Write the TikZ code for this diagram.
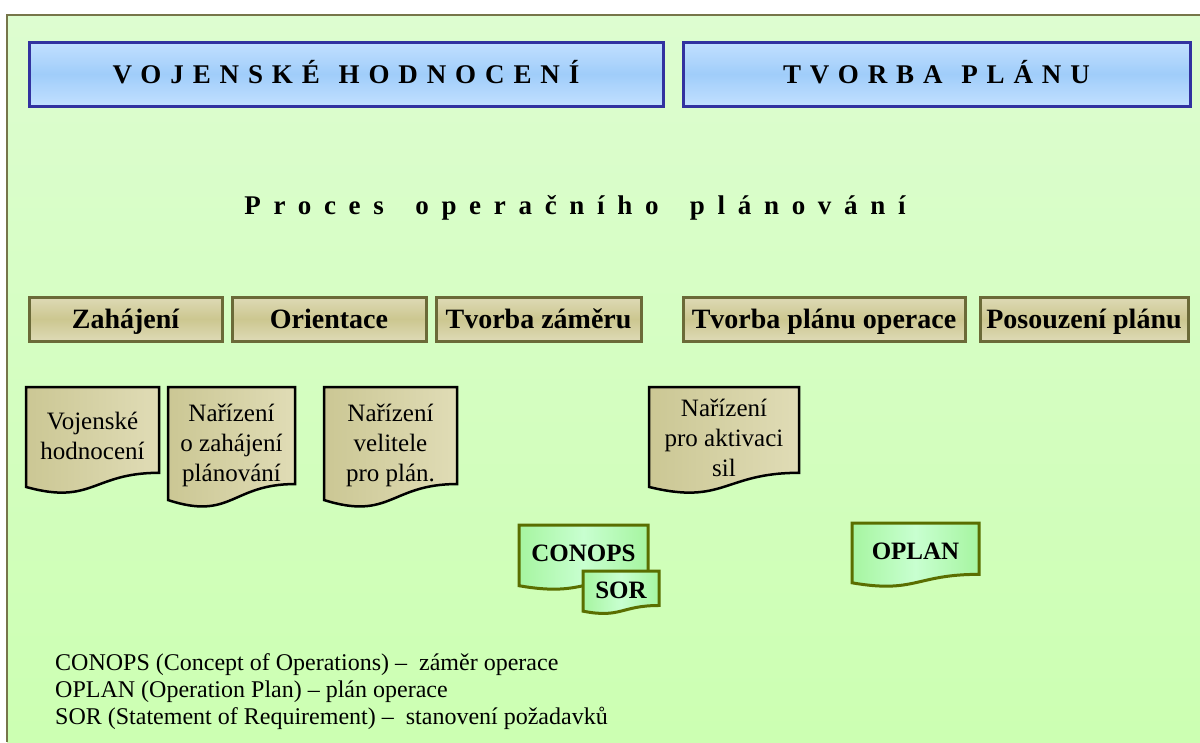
\documentclass[tikz,border=0pt]{standalone}
\usepackage{fontspec}
\setmainfont{Liberation Serif}
\definecolor{bgtop}{RGB}{221,253,208}
\definecolor{bgbot}{RGB}{204,255,178}
\definecolor{framec}{RGB}{118,118,74}
\definecolor{bluebd}{RGB}{50,50,160}
\definecolor{bluelt}{RGB}{194,224,255}
\definecolor{bluemid}{RGB}{160,205,250}
\definecolor{tanbd}{RGB}{107,106,56}
\definecolor{tanlt}{RGB}{222,218,182}
\definecolor{tanmid}{RGB}{204,199,144}
\definecolor{docl}{RGB}{203,199,148}
\definecolor{docr}{RGB}{224,220,182}
\definecolor{grbd}{RGB}{90,110,0}
\definecolor{grside}{RGB}{166,245,160}
\definecolor{grmid}{RGB}{200,255,208}
\newcommand\mydoc[5]{%
  \draw[#1] (#2,#3) -- (#4,#3) -- (#4,{#3+0.802*#5})
    .. controls ({(#2+#4)/2},{#3+0.802*#5}) and ({(#2+#4)/2},{#3+1.107*#5}) ..
    (#2,{#3+0.934*#5}) -- cycle;}
\begin{document}
\begin{tikzpicture}[x=1pt,y=-1pt,
  framestyle/.style={draw=framec,line width=2},
  bluebox/.style={draw=bluebd,line width=3,top color=bluelt,bottom color=bluelt,middle color=bluemid,
    inner sep=0,minimum height=64,text height=24,text depth=6,
    font=\fontsize{27}{32}\selectfont\bfseries\addfontfeature{LetterSpace=33}},
  tanbox/.style={draw=tanbd,line width=3,top color=tanlt,bottom color=tanlt,middle color=tanmid,
    inner sep=0,minimum height=44,text height=26,text depth=8,font=\fontsize{28}{32}\selectfont\bfseries},
  tandoc/.style={draw=black,line width=2.5,left color=docl,right color=docr},
  greendoc/.style={draw=grbd,line width=3,left color=grside,right color=grside,middle color=grmid},
  doctext/.style={align=center,inner sep=0,font=\fontsize{25}{30}\selectfont},
  grtext/.style={inner sep=0,text height=17,text depth=0,font=\fontsize{25}{28}\selectfont\bfseries},
  titletext/.style={inner sep=0,text height=18,text depth=0,
    font=\fontsize{27}{30}\selectfont\bfseries\addfontfeature{LetterSpace=47}},
  legendtext/.style={inner sep=0,anchor=base west,font=\fontsize{24}{27}\selectfont}]
\useasboundingbox (0,0) rectangle (1200,742);
\fill[white] (0,0) rectangle (1200,742);
\shade[top color=bgtop,bottom color=bgbot] (7,15) rectangle (1200,742);
\draw[framestyle] (7,742) -- (7,15) -- (1200,15);
% header boxes
\node[bluebox,minimum width=634] (vh) at (346,74) {VOJENSKÉ\hspace{3pt} HODNOCENÍ\hspace{-9pt}};
\node[bluebox,minimum width=507] (tp) at (936.5,74) {TVORBA\hspace{3pt} PLÁNU\hspace{-9pt}};
% title
\node[titletext] (title) at (575,205) {Proces\hspace{12pt} operačního\hspace{12pt} plánování\hspace{-12pt}};
% phase boxes
\node[tanbox,minimum width=193] (p1) at (125.5,319) {Zahájení};
\node[tanbox,minimum width=194] (p2) at (329,319) {Orientace};
\node[tanbox,minimum width=205] (p3) at (538.5,319) {Tvorba záměru};
\node[tanbox,minimum width=282] (p4) at (824,319) {Tvorba plánu operace};
\node[tanbox,minimum width=208] (p5) at (1084,319) {Posouzení plánu};
% documents
\mydoc{tandoc}{26}{387}{159}{107}
\node[doctext] (d1) at (92.5,436) {Vojenské\\hodnocení};
\mydoc{tandoc}{168}{387}{295}{121}
\node[doctext] (d2) at (231.5,445) {Nařízení\\o zahájení\\plánování};
\mydoc{tandoc}{324}{387}{457}{121}
\node[doctext] (d3) at (390.5,445) {Nařízení\\velitele\\pro plán.};
\mydoc{tandoc}{649}{387}{799}{107}
\node[doctext] (d4) at (724,438) {Nařízení\\pro aktivaci\\sil};
% green documents
\mydoc{greendoc}{519}{525}{648}{65}
\node[grtext] (conops) at (583.5,553) {CONOPS};
\mydoc{greendoc}{583}{571}{659}{43}
\node[grtext] (sor) at (621,590) {SOR};
\mydoc{greendoc}{852}{523}{979}{64}
\node[grtext] (oplan) at (915.5,551) {OPLAN};
% legend
\node[legendtext] (l1) at (55,670) {CONOPS (Concept of Operations) –~ záměr operace};
\node[legendtext] (l2) at (55,697) {OPLAN (Operation Plan) – plán operace};
\node[legendtext] (l3) at (55,724) {SOR (Statement of Requirement) –~ stanovení požadavků};
\end{tikzpicture}
\end{document}
